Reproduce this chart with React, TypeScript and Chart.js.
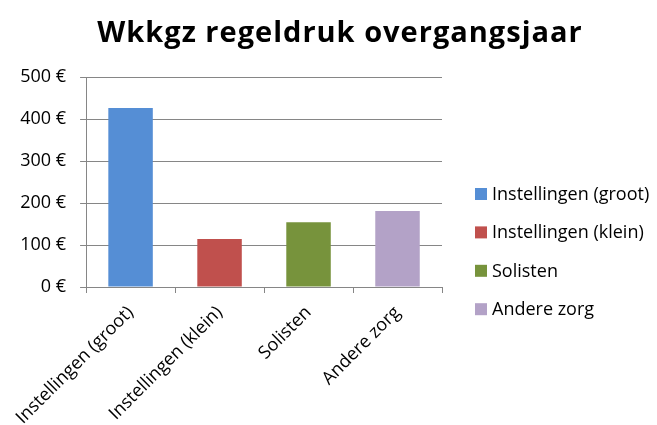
import React, { useEffect, useRef } from "react";
import { Chart, registerables } from "chart.js";

Chart.register(...registerables);

const title = "Wkkgz regeldruk overgangsjaar";
const categories = ["Instellingen (groot)", "Instellingen (klein)", "Solisten", "Andere zorg"];
const values = [426, 114, 154, 181];
const colors = ["#558ED5", "#C0504D", "#77933C", "#B3A2C7"];
const yMin = 0;
const yMax = 500;
const yStep = 100;

const FONT = "'Open Sans', sans-serif";

const decorPlugin = {
  id: "decor",
  afterDraw(chart: any) {
    const ctx = chart.ctx as CanvasRenderingContext2D;
    ctx.save();
    // title
    ctx.fillStyle = "#000";
    ctx.font = `bold 29px ${FONT}`;
    (ctx as any).letterSpacing = "1px";
    ctx.textAlign = "center";
    ctx.textBaseline = "alphabetic";
    ctx.fillText(title, 340, 42);
    (ctx as any).letterSpacing = "0px";
    // legend
    ctx.font = `18px ${FONT}`;
    ctx.textAlign = "left";
    categories.forEach((c, i) => {
      const y = 188 + i * 38.4;
      ctx.fillStyle = colors[i];
      ctx.fillRect(475, y, 12, 12);
      ctx.fillStyle = "#000";
      ctx.fillText(c, 492, y + 12);
    });
    ctx.restore();
  },
};

export default function App() {
  const ref = useRef<HTMLCanvasElement | null>(null);
  useEffect(() => {
    document.body.style.margin = "0";
    const chart = new Chart(ref.current!, {
      type: "bar",
      data: {
        labels: categories,
        datasets: [
          {
            data: values,
            backgroundColor: colors,
            borderWidth: 0,
            barPercentage: 0.5,
            categoryPercentage: 1,
          },
        ],
      },
      plugins: [decorPlugin],
      options: {
        animation: false,
        responsive: false,
        maintainAspectRatio: false,
        layout: { padding: { left: 0, right: 215, top: 77, bottom: 0 } },
        plugins: {
          title: { display: false },
          legend: { display: false },
          tooltip: { enabled: false },
        },
        scales: {
          x: {
            afterFit: (s: any) => {
              s.height = 138;
            },
            grid: {
              offset: true,
              drawOnChartArea: false,
              drawTicks: true,
              tickLength: 6,
              color: "#868686",
            },
            border: { color: "#868686", width: 1 },
            ticks: {
              color: "#000",
              font: { family: FONT, size: 18 },
              maxRotation: 45,
              minRotation: 45,
              padding: 9,
            },
          },
          y: {
            min: yMin,
            max: yMax,
            afterFit: (s: any) => {
              s.width = 83;
            },
            grid: { color: "#868686", tickLength: 6, drawTicks: true },
            border: { color: "#868686", width: 1 },
            ticks: {
              stepSize: yStep,
              color: "#000",
              font: { family: FONT, size: 18 },
              padding: 14,
              callback: (v: any) => `${v} €`,
            },
          },
        },
      },
    });
    return () => chart.destroy();
  }, []);
  return (
    <div style={{ position: "fixed", left: 0, top: 0, width: 657, height: 425, background: "#fff" }}>
      <canvas ref={ref} width={657} height={425} style={{ width: 657, height: 425 }} />
    </div>
  );
}
